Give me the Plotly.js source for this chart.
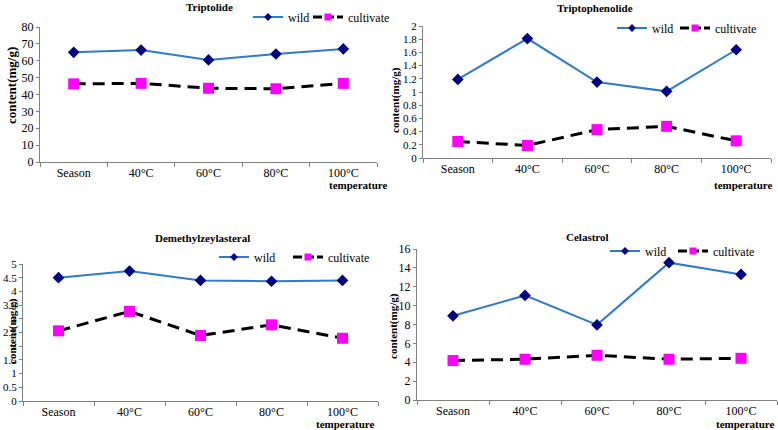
<!DOCTYPE html>
<html>
<head>
<meta charset="utf-8">
<script src="https://cdn.plot.ly/plotly-3.0.1.min.js"></script>
<style>
  html, body { margin: 0; padding: 0; background: #fff; }
  #chart1 { width: 778px; height: 430px; }
</style>
</head>
<body>
<div id="chart1"></div>
<script>
// data
var categories = ['Season', '40°C', '60°C', '80°C', '100°C'];

var triptolideWild = [65.0, 66.3, 60.5, 64.0, 67.0];
var triptolideCult = [46.3, 46.6, 43.7, 43.4, 46.6];

var triptophenolideWild = [1.19, 1.81, 1.15, 1.01, 1.64];
var triptophenolideCult = [0.25, 0.19, 0.43, 0.48, 0.26];

var demethylWild = [4.50, 4.74, 4.40, 4.37, 4.40];
var demethylCult = [2.56, 3.27, 2.39, 2.78, 2.29];

var celastrolWild = [8.92, 11.08, 7.96, 14.55, 13.31];
var celastrolCult = [4.18, 4.32, 4.74, 4.32, 4.42];

var panelTitles = ['Triptolide', 'Triptophenolide', 'Demethylzeylasteral', 'Celastrol'];

var W = 778, H = 430;
function px(x) { return x / W; }
function py(y) { return 1 - y / H; }

var serif = 'Liberation Serif';
var wildLine = '#2f7bc8';
var wildMarker = '#000080';

function sfx(n) { return n > 1 ? String(n) : ''; }

// the plotted lines, legend entries come from the small copies below
function wildTrace(y, n) {
    return {
        x: categories, y: y,
        xaxis: 'x' + sfx(n), yaxis: 'y' + sfx(n),
        mode: 'lines+markers', name: 'wild', showlegend: false,
        line: { color: wildLine, width: 2 },
        marker: { symbol: 'diamond', size: 9, color: wildMarker },
        type: 'scatter'
    };
}

function cultTrace(y, n) {
    return {
        x: categories, y: y,
        xaxis: 'x' + sfx(n), yaxis: 'y' + sfx(n),
        mode: 'lines+markers', name: 'cultivate', showlegend: false,
        line: { color: '#000000', width: 3, dash: '12px,7px' },
        marker: { symbol: 'square', size: 11, color: '#ff00ff' },
        type: 'scatter'
    };
}

// legend keys with smaller symbols, each key in its own legend box
function legendKeys(n) {
    return [{
        x: [null], y: [null], xaxis: 'x' + sfx(n), yaxis: 'y' + sfx(n),
        legend: 'legend' + sfx(2 * n - 1), name: 'wild', mode: 'lines+markers',
        line: { color: wildLine, width: 2 },
        marker: { symbol: 'diamond', size: 6, color: wildMarker },
        type: 'scatter'
    }, {
        x: [null], y: [null], xaxis: 'x' + sfx(n), yaxis: 'y' + sfx(n),
        legend: 'legend' + sfx(2 * n), name: 'cultivate', mode: 'lines+markers',
        line: { color: '#000000', width: 3, dash: '9px,3px' },
        marker: { symbol: 'square', size: 7, color: '#ff00ff' },
        type: 'scatter'
    }];
}

var data = [
    wildTrace(triptolideWild, 1), cultTrace(triptolideCult, 1),
    wildTrace(triptophenolideWild, 2), cultTrace(triptophenolideCult, 2),
    wildTrace(demethylWild, 3), cultTrace(demethylCult, 3),
    wildTrace(celastrolWild, 4), cultTrace(celastrolCult, 4)
].concat(legendKeys(1), legendKeys(2), legendKeys(3), legendKeys(4));

function xAxis(d, anchor) {
    return {
        domain: d, anchor: anchor, range: [-0.5, 4.5],
        showline: true, linecolor: '#808080', linewidth: 1,
        ticks: 'outside', tickson: 'boundaries', ticklen: 4, tickcolor: '#808080',
        showgrid: false, zeroline: false, fixedrange: true,
        tickfont: { family: serif, size: 12, color: '#000' }
    };
}

function yAxis(d, anchor, range, dtick, fs) {
    return {
        domain: d, anchor: anchor, range: range, dtick: dtick,
        showline: true, linecolor: '#808080', linewidth: 1,
        ticks: 'outside', ticklen: 3, tickcolor: '#808080',
        showgrid: false, zeroline: false, fixedrange: true,
        tickfont: { family: serif, size: fs, color: '#000' }
    };
}

function legendAt(x, y) {
    return {
        x: px(x - 5), y: py(y), xanchor: 'left', yanchor: 'middle',
        orientation: 'h', bgcolor: 'rgba(0,0,0,0)', borderwidth: 0,
        itemwidth: 30,
        font: { family: serif, size: 12, color: '#000' }
    };
}

var annotations = [];
var titlePos = [[209, 7], [595, 8], [202, 238], [587, 237]];
titlePos.forEach(function(p, i) {
    annotations.push({
        xref: 'paper', yref: 'paper', x: px(p[0]), y: py(p[1]),
        xanchor: 'center', yanchor: 'middle', showarrow: false,
        text: '<b>' + panelTitles[i] + '</b>',
        font: { family: serif, size: 11, color: '#000' }
    });
});
var yTitlePos = [[12, 86, 13], [396, 100, 11], [12, 331, 11], [393, 326, 11]];
yTitlePos.forEach(function(p) {
    annotations.push({
        xref: 'paper', yref: 'paper', x: px(p[0]), y: py(p[1]),
        xanchor: 'center', yanchor: 'middle', showarrow: false, textangle: -90,
        text: '<b>content(mg/g)</b>',
        font: { family: serif, size: p[2], color: '#000' }
    });
});
var xTitlePos = [[390, 185], [775, 185], [377, 424], [777, 424]];
xTitlePos.forEach(function(p) {
    annotations.push({
        xref: 'paper', yref: 'paper', x: px(p[0]), y: py(p[1]),
        xanchor: 'right', yanchor: 'middle', showarrow: false,
        text: '<b>temperature</b>',
        font: { family: serif, size: 11, color: '#000' }
    });
});

var layout = {
    width: W, height: H,
    margin: { l: 0, r: 0, t: 0, b: 0 },
    paper_bgcolor: '#fff', plot_bgcolor: '#fff',
    showlegend: true,
    font: { family: serif, size: 12, color: '#000' },
    xaxis:  xAxis([px(40), px(377)], 'y'),
    yaxis:  yAxis([py(162), py(27)], 'x', [0, 80], 10, 12),
    xaxis2: xAxis([px(423), px(771)], 'y2'),
    yaxis2: yAxis([py(158), py(26)], 'x2', [0, 2], 0.2, 11),
    xaxis3: xAxis([px(23), px(378)], 'y3'),
    yaxis3: yAxis([py(401), py(264)], 'x3', [0, 5], 0.5, 11),
    xaxis4: xAxis([px(417), px(777)], 'y4'),
    yaxis4: yAxis([py(400), py(249)], 'x4', [0, 16], 2, 12),
    legend:  legendAt(253, 17),
    legend2: legendAt(313, 17),
    legend3: legendAt(617, 28),
    legend4: legendAt(680, 28),
    legend5: legendAt(219, 257),
    legend6: legendAt(293, 257),
    legend7: legendAt(610, 251),
    legend8: legendAt(678, 251),
    annotations: annotations
};

Plotly.newPlot('chart1', data, layout, { staticPlot: true, displayModeBar: false });
</script>
</body>
</html>
